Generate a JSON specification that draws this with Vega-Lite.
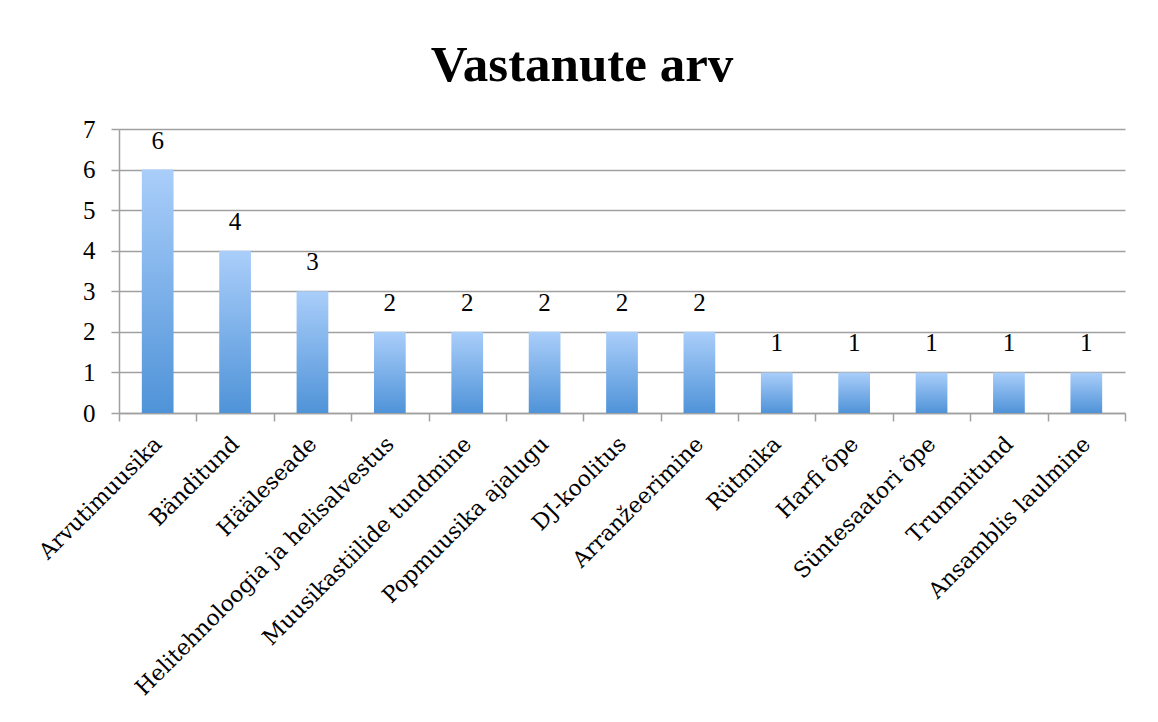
{
  "$schema": "https://vega.github.io/schema/vega-lite/v6.json",
  "autosize": "none",
  "width": 1006,
  "height": 284,
  "padding": {"left": 119, "top": 129, "right": 33, "bottom": 309},
  "background": "white",
  "title": {
    "text": "Vastanute arv",
    "font": "Liberation Serif",
    "fontSize": 51,
    "fontWeight": "bold",
    "color": "#000000",
    "anchor": "middle",
    "dx": -40,
    "offset": 25
  },
  "data": {
    "values": [
      {"teema": "Arvutimuusika", "arv": 6},
      {"teema": "Bänditund", "arv": 4},
      {"teema": "Hääleseade", "arv": 3},
      {"teema": "Helitehnoloogia ja helisalvestus", "arv": 2},
      {"teema": "Muusikastiilide tundmine", "arv": 2},
      {"teema": "Popmuusika ajalugu", "arv": 2},
      {"teema": "DJ-koolitus", "arv": 2},
      {"teema": "Arranžeerimine", "arv": 2},
      {"teema": "Rütmika", "arv": 1},
      {"teema": "Harfi õpe", "arv": 1},
      {"teema": "Süntesaatori õpe", "arv": 1},
      {"teema": "Trummitund", "arv": 1},
      {"teema": "Ansamblis laulmine", "arv": 1}
    ]
  },
  "encoding": {
    "x": {
      "field": "teema",
      "type": "nominal",
      "sort": null,
      "scale": {"paddingInner": 0, "paddingOuter": 0},
      "axis": {
        "title": null,
        "labelAngle": -45,
        "labelAlign": "right",
        "labelBaseline": "middle",
        "labelFont": "DejaVu Serif",
        "labelFontSize": 22,
        "labelColor": "#000000",
        "labelPadding": 19,
        "labelLimit": 0,
        "tickBand": "extent",
        "tickSize": 8,
        "tickColor": "#A0A0A0",
        "tickWidth": 1.5,
        "domainColor": "#A0A0A0",
        "domainWidth": 1.5,
        "grid": false
      }
    },
    "y": {
      "field": "arv",
      "type": "quantitative",
      "scale": {"domain": [0, 7], "nice": false},
      "axis": {
        "title": null,
        "values": [0, 1, 2, 3, 4, 5, 6, 7],
        "labelFont": "Liberation Serif",
        "labelFontSize": 25,
        "labelColor": "#000000",
        "labelPadding": 16,
        "tickSize": 8,
        "tickColor": "#A0A0A0",
        "tickWidth": 1.5,
        "domainColor": "#A0A0A0",
        "domainWidth": 1.5,
        "grid": true,
        "gridColor": "#A0A0A0",
        "gridWidth": 1.5
      }
    }
  },
  "layer": [
    {
      "mark": {
        "type": "bar",
        "width": {"band": 0.41},
        "color": {
          "gradient": "linear",
          "x1": 0, "y1": 0, "x2": 0, "y2": 1,
          "stops": [
            {"offset": 0, "color": "#AACEFA"},
            {"offset": 1, "color": "#4F93D8"}
          ]
        }
      }
    },
    {
      "mark": {
        "type": "text",
        "baseline": "bottom",
        "dy": -16,
        "font": "Liberation Serif",
        "fontSize": 25,
        "color": "#000000"
      },
      "encoding": {"text": {"field": "arv", "type": "quantitative"}}
    }
  ],
  "config": {"view": {"stroke": null}}
}
